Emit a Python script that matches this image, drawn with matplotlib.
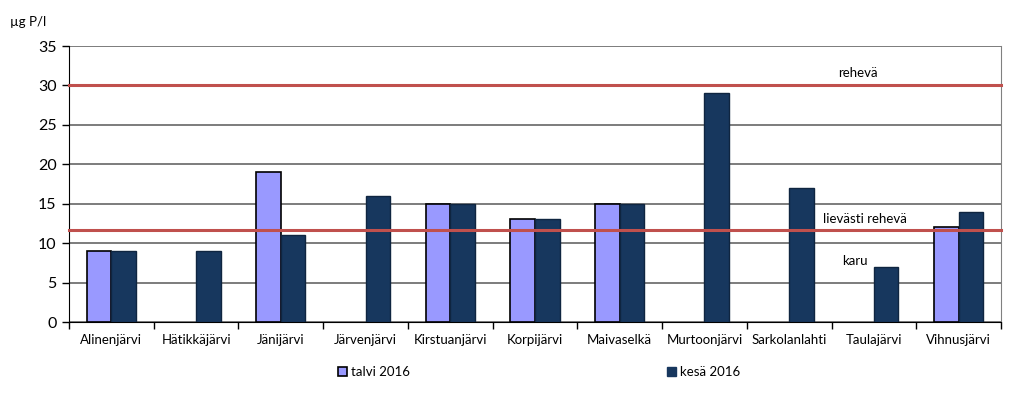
import matplotlib
matplotlib.use("Agg")
import matplotlib.pyplot as plt
import numpy as np
from matplotlib.patches import Patch

categories = ["Alinenjärvi", "Hätikkäjärvi", "Jänijärvi", "Järvenjärvi", "Kirstuanjärvi",
              "Korpijärvi", "Maivaselkä", "Murtoonjärvi", "Sarkolanlahti", "Taulajärvi", "Vihnusjärvi"]
talvi = [9, None, 19, None, 15, 13, 15, None, None, None, 12]
kesa = [9, 9, 11, 16, 15, 13, 15, 29, 17, 7, 14]
thresholds = [30, 11.7]
threshold_labels = ["rehevä", "lievästi rehevä", "karu"]
yticks = [0, 5, 10, 15, 20, 25, 30, 35]

plt.rcParams['font.family'] = ['Lato', 'DejaVu Sans']

fig = plt.figure(figsize=(10.24, 4.01), dpi=100)
ax = fig.add_axes([69/1024, 1-322/401, (1001-69)/1024, (322-46)/401])

x = np.arange(len(categories))
w = 0.29
tx = [xi - w/2 for xi, v in zip(x, talvi) if v is not None]
tv = [v for v in talvi if v is not None]
ax.bar(tx, tv, width=w, color='#9999FF', edgecolor='black', linewidth=1.2, zorder=3)
ax.bar(x + w/2, kesa, width=w, color='#17375E', edgecolor='#0f2540', linewidth=1.0, zorder=3)

ax.set_xlim(-0.5, len(categories) - 0.5)
ax.set_ylim(0, 35)
ax.set_yticks(yticks)
ax.tick_params(axis='y', labelsize=11.5, length=5, width=1, direction='out', pad=4)
ax.set_xticks(np.arange(len(categories) + 1) - 0.5)
ax.set_xticklabels([])
ax.set_xticks(x, minor=True)
ax.set_xticklabels(categories, minor=True, fontsize=9.5)
ax.tick_params(axis='x', which='major', length=5, width=1, direction='out')
ax.tick_params(axis='x', which='minor', length=0, pad=9)

ax.yaxis.grid(True, color='#595959', linewidth=1.1, zorder=0)
ax.set_axisbelow(True)
ax.spines['top'].set_visible(False)
ax.spines['right'].set_color('#808080')
ax.spines['left'].set_color('black')
ax.spines['bottom'].set_color('black')

for t in thresholds:
    ax.axhline(t, color='#C0504D', linewidth=2.2, zorder=4, clip_on=False)

ax.text(8.81, 31.6, threshold_labels[0], ha='center', va='center', fontsize=9.5)
ax.text(8.89, 13.06, threshold_labels[1], ha='center', va='center', fontsize=9.5)
ax.text(8.78, 7.7, threshold_labels[2], ha='center', va='center', fontsize=9.5)

fig.text(10/1024, 1-22/401, "µg P/l", ha='left', va='center', fontsize=9.5)

handles = [Patch(facecolor='#9999FF', edgecolor='black', linewidth=1.2),
           Patch(facecolor='#17375E', edgecolor='#17375E')]
fig.legend(handles, ["talvi 2016", "kesä 2016"], ncol=2, loc='center',
           bbox_to_anchor=(539/1024, 1-372/401), frameon=False, fontsize=9.5,
           handlelength=0.7, handleheight=0.7, handletextpad=0.3, columnspacing=19.5)

fig.savefig("out.png", dpi=100)
